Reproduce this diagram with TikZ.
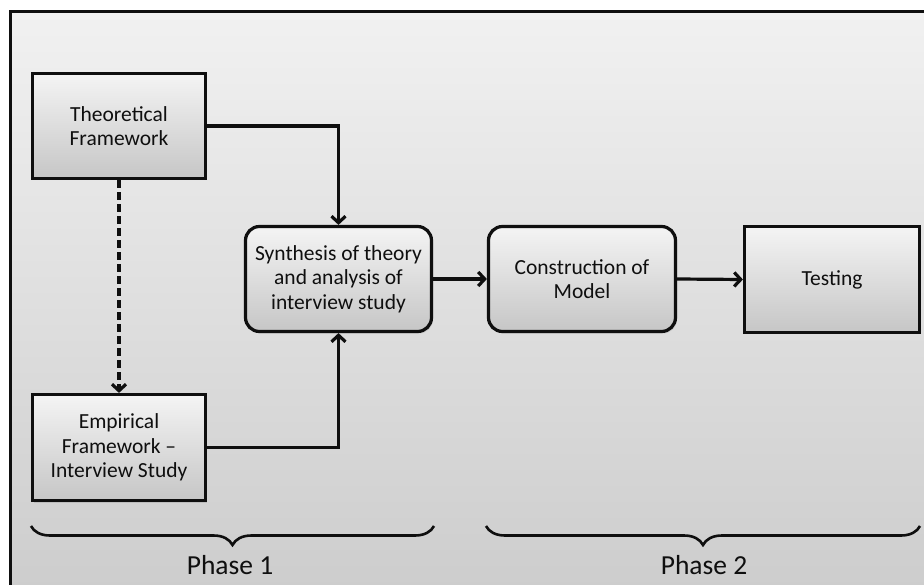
\documentclass[tikz,border=0pt]{standalone}
\usepackage{fontspec}
\setmainfont{Carlito}
\usetikzlibrary{arrows.meta,shadows,decorations.pathreplacing}
\definecolor{bgtop}{RGB}{241,241,241}
\definecolor{bgbot}{RGB}{205,205,205}
\definecolor{boxtop}{RGB}{244,244,244}
\definecolor{boxbot}{RGB}{198,198,198}
\definecolor{ink}{RGB}{15,15,15}
\begin{document}
\begin{tikzpicture}[x=1pt,y=-1pt,
  every node/.style={text=ink},
  stage/.style={draw=ink, line width=3.2pt, top color=boxtop, bottom color=boxbot,
    align=center, inner sep=0pt, font=\fontsize{21.5}{24.5}\selectfont,
    drop shadow={shadow xshift=1.5pt, shadow yshift=-2pt, opacity=0.25}},
  squarebox/.style={stage, rectangle},
  roundbox/.style={stage, rectangle, rounded corners=14pt},
  link/.style={draw=ink, line width=3.2pt, -{Straight Barb[length=6.5pt,width=14pt]}},
  dashlink/.style={link, dash pattern=on 8pt off 4pt},
  phasebrace/.style={draw=ink, line width=2.6pt, decorate,
    decoration={brace, mirror, amplitude=19pt}},
  phaselabel/.style={font=\fontsize{27.5}{30}\selectfont}
]
% page and framed panel
\clip (0,0) rectangle (924,585);
\fill[white] (0,0) rectangle (924,585);
\shade[top color=bgtop, bottom color=bgbot] (10,11) rectangle (960,590);
\draw[draw=ink, line width=3pt] (960,11.5) -- (10.5,11.5) -- (10.5,600);

% stages
\node[squarebox, minimum width=173pt, minimum height=105pt] (tf) at (119,126)
  {Theoretical\\Framework};
\node[squarebox, minimum width=173pt, minimum height=106pt] (emp) at (119,447.5)
  {Empirical\\Framework –\\Interview Study};
\node[roundbox, minimum width=186pt, minimum height=105pt] (syn) at (338.5,279)
  {Synthesis of theory\\and analysis of\\interview study};
\node[roundbox, minimum width=187pt, minimum height=105pt] (con) at (582,279)
  {Construction of\\Model};
\node[squarebox, minimum width=175pt, minimum height=106pt] (test) at (832,279.5)
  {Testing};

% connectors
\draw[link] (tf.east) -| (syn.north);
\draw[link] (emp.east) -| (syn.south);
\draw[dashlink] (tf.south) -- (emp.north);
\draw[link] (syn.east) -- (con.west);
\draw[link] (con.east) -- (test.west);

% phases
\coordinate (b1l) at (31,526);
\coordinate (b1r) at (434,526);
\coordinate (b2l) at (486,526);
\coordinate (b2r) at (920,526);
\draw[phasebrace] (b1l) -- (b1r);
\draw[phasebrace] (b2l) -- (b2r);
\node[phaselabel] (p1) at (230,565) {Phase 1};
\node[phaselabel] (p2) at (704,565) {Phase 2};
\end{tikzpicture}
\end{document}
